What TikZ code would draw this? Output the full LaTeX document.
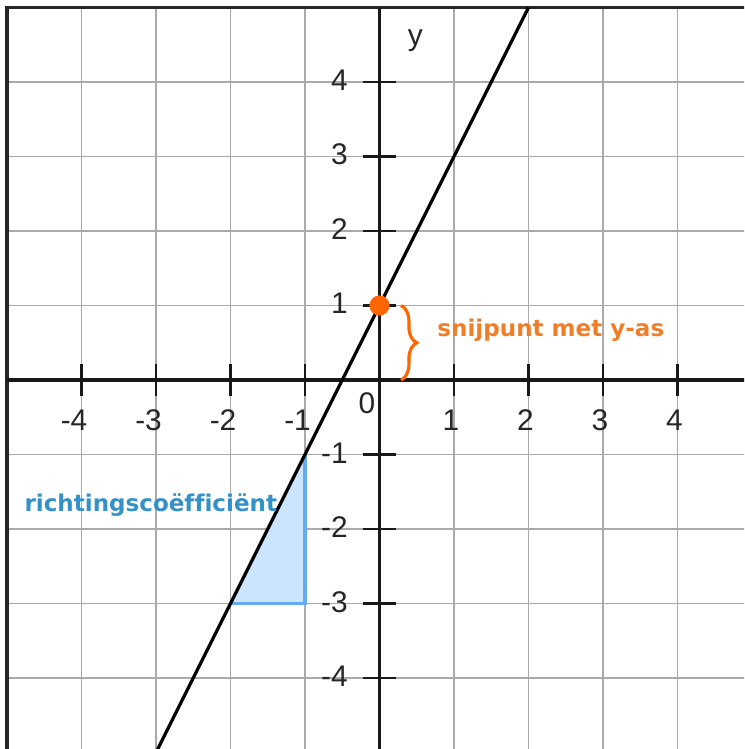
\documentclass[tikz,border=0pt]{standalone}
\usepackage{fontspec}
\setmainfont{Liberation Sans}
\newfontfamily\lbl[Ligatures=NoCommon]{DejaVu Sans}
\usetikzlibrary{decorations.pathreplacing}
\definecolor{gridgray}{RGB}{170,170,170}
\definecolor{dotorange}{RGB}{255,102,0}
\definecolor{txtorange}{RGB}{240,125,40}
\definecolor{txtblue}{RGB}{52,145,200}
\definecolor{trifill}{RGB}{204,229,255}
\definecolor{triedge}{RGB}{102,170,240}
\tikzset{
  gridline/.style={draw=gridgray, line width=0.6pt},
  frameline/.style={draw=black!85, line width=1.2pt},
  axisline/.style={draw=black!90, line width=1.2pt},
  tickmark/.style={draw=black!90, line width=1pt},
  fnline/.style={draw=black, line width=1.2pt},
  ticklabel/.style={inner sep=0pt, font=\fontsize{11.4}{13}\selectfont, text=black!85},
  annot/.style={inner sep=0pt, font=\lbl\bfseries\fontsize{8.8}{10}\selectfont},
  bracestyle/.style={draw=dotorange, line width=1.2pt, decorate, decoration={brace, amplitude=6pt}}
}
\begin{document}
\begin{tikzpicture}
\useasboundingbox (-5.094,-4.953) rectangle (4.893,5.101);
\clip (-5.094,-4.953) rectangle (4.893,5.101);
% grid
\foreach \i in {-4,...,4} {
  \draw[gridline] (\i,-5.2) -- (\i,5);
  \draw[gridline] (-5,\i) -- (5.2,\i);
}
% frame
\draw[frameline] (-5,-5.2) -- (-5,5) -- (5.2,5);
% slope triangle
\fill[trifill] (-2,-3) -- (-1,-3) -- (-1,-1) -- cycle;
\draw[draw=triedge, line width=1.2pt] (-2,-3) -- (-1,-3) -- (-1,-1);
% axes
\draw[axisline] (-5,0) -- (5.2,0);
\draw[axisline] (0,-5.2) -- (0,5);
% ticks and labels
\foreach \i in {-4,...,-1} {
  \draw[tickmark] (\i,-0.22) -- (\i,0.22);
  \draw[tickmark] (-0.22,\i) -- (0.22,\i);
  \node[ticklabel] (xl\i) at (\i-0.1,-0.54) {\i};
  \node[ticklabel, anchor=east] (yl\i) at (-0.42,\i+0.02) {\i};
}
\foreach \i in {1,...,4} {
  \draw[tickmark] (\i,-0.22) -- (\i,0.22);
  \draw[tickmark] (-0.22,\i) -- (0.22,\i);
  \node[ticklabel] (xl\i) at (\i-0.04,-0.54) {\i};
  \node[ticklabel, anchor=east] (yl\i) at (-0.42,\i+0.03) {\i};
}
\node[ticklabel] (origin) at (-0.17,-0.31) {0};
\node[ticklabel] (ylabel) at (0.48,4.56) {y};
% function line y = 2x + 1
\coordinate (lineA) at (-3,-5);
\coordinate (lineB) at (2,5);
\draw[fnline] (lineA) -- (lineB);
% intercept
\fill[dotorange] (0,1) circle (0.135);
\coordinate (braceTop) at (0.29,1);
\coordinate (braceBot) at (0.29,0);
\draw[bracestyle] (braceTop) -- (braceBot);
\node[annot, text=txtorange] (snij) at (2.30,0.67) {snijpunt met y-as};
\node[annot, text=txtblue] (rc) at (-3.07,-1.68) {richtingscoëfficiënt};
\end{tikzpicture}
\end{document}
